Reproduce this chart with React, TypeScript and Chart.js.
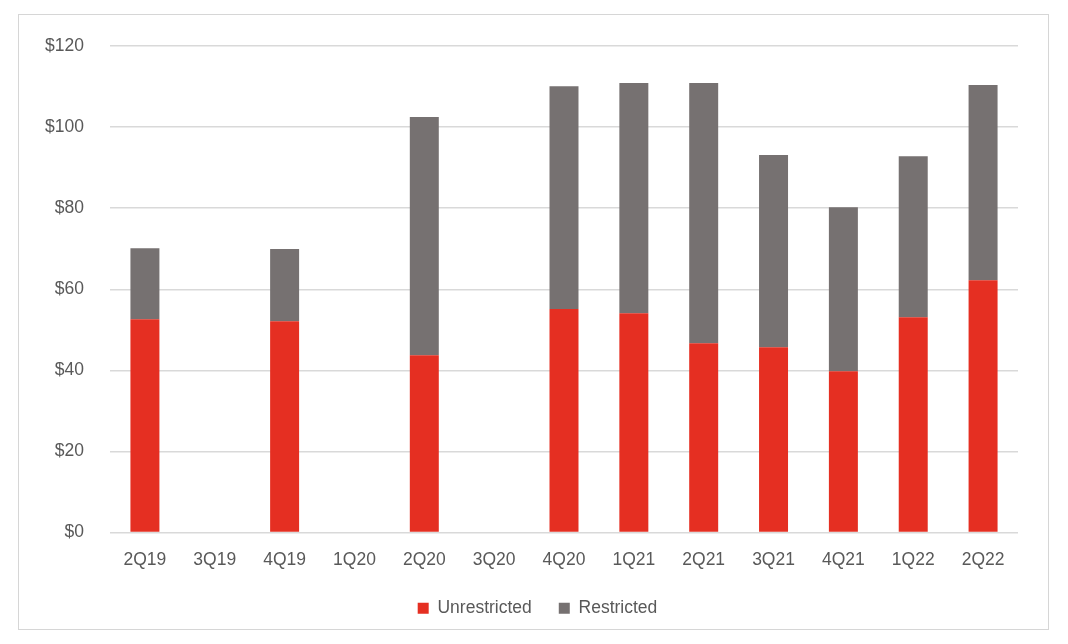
import React, { useEffect, useRef } from "react";
import { Chart, registerables } from "chart.js";

Chart.register(...registerables);

const quarters = ["2Q19", "3Q19", "4Q19", "1Q20", "2Q20", "3Q20", "4Q20", "1Q21", "2Q21", "3Q21", "4Q21", "1Q22", "2Q22"];
const unrestricted = [52.6, null, 52.1, null, 43.7, null, 55.1, 54.1, 46.7, 45.7, 39.8, 53.1, 62.2];
const restricted = [17.5, null, 17.8, null, 58.8, null, 55.0, 56.8, 64.2, 47.4, 40.4, 39.7, 48.2];
const yTicks = [0, 20, 40, 60, 80, 100, 120];

const FONT = "'Liberation Sans', Arial, sans-serif";
const TEXT = "#595959";

const legendShift = {
  id: "legendShift",
  afterLayout(chart: any) {
    const l = chart.legend;
    if (l) {
      l.left += 19;
      l.right += 19;
    }
  },
};

export default function App() {
  const ref = useRef<HTMLCanvasElement>(null);
  useEffect(() => {
    if (!ref.current) return;
    const chart = new Chart(ref.current, {
      type: "bar",
      data: {
        labels: quarters,
        datasets: [
          { label: "Unrestricted", data: unrestricted, backgroundColor: "#e52f22", borderWidth: 0 },
          { label: "Restricted", data: restricted, backgroundColor: "#767171", borderWidth: 0 },
        ],
      },
      options: {
        animation: false,
        responsive: true,
        maintainAspectRatio: false,
        layout: { padding: { top: 31, right: 30, bottom: 2, left: 0 } },
        datasets: { bar: { barPercentage: 1, categoryPercentage: 0.415 } },
        scales: {
          x: {
            stacked: true,
            grid: { display: false, drawTicks: false },
            border: { display: false },
            ticks: { color: TEXT, font: { family: FONT, size: 17.5 }, padding: 17, maxRotation: 0, autoSkip: false },
            afterFit: (s: any) => { s.height = 40; },
          },
          y: {
            stacked: true,
            min: 0,
            max: 120,
            afterBuildTicks: (s: any) => { s.ticks = yTicks.map((v) => ({ value: v })); },
            grid: { color: "#d9d9d9", lineWidth: 1.5, drawTicks: false },
            border: { display: false },
            ticks: { color: TEXT, font: { family: FONT, size: 17.5 }, padding: 26, callback: (v: any) => "$" + v },
            afterFit: (s: any) => { s.width = 91; s.paddingTop = 10; s.paddingBottom = 10; },
          },
        },
        plugins: {
          legend: {
            position: "bottom",
            labels: { color: TEXT, font: { family: FONT, size: 17.5 }, boxWidth: 11, boxHeight: 11, padding: 27 },
          },
          tooltip: { enabled: false },
        },
      },
      plugins: [legendShift],
    });
    return () => chart.destroy();
  }, []);
  return (
    <div style={{ position: "absolute", left: 18, top: 14, width: 1031, height: 616, border: "1px solid #d6d6d6", boxSizing: "border-box", background: "#fff" }}>
      <canvas ref={ref} />
    </div>
  );
}
